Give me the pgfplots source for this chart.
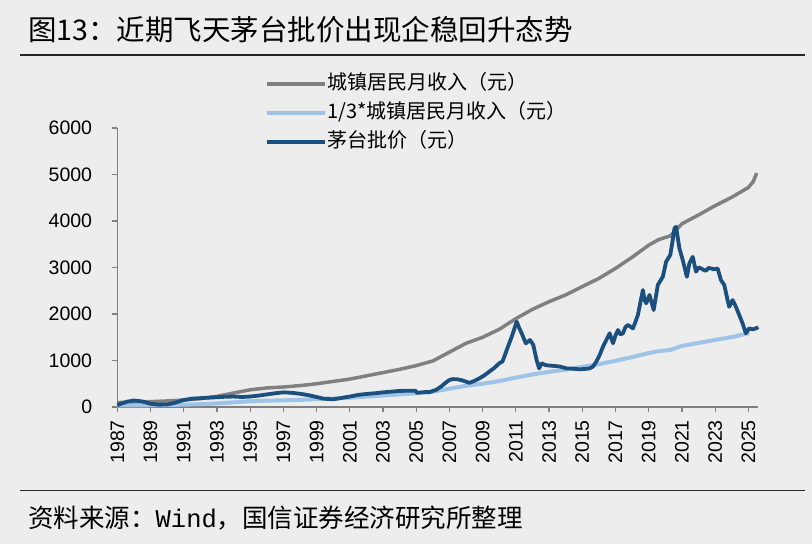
\documentclass[border=0pt]{standalone}
\usepackage{pgfplots}
\pgfplotsset{compat=1.18}
\usepackage{fontspec}
\setmainfont{Liberation Sans}
\newfontfamily\cjk{Noto Sans CJK SC}
\newfontfamily\mono{Liberation Mono}
\definecolor{bg}{HTML}{EDEDED}
\definecolor{incgray}{HTML}{808080}
\definecolor{lblue}{HTML}{9DC3E6}
\definecolor{dblue}{HTML}{1B4F7E}
\definecolor{axgray}{HTML}{7F7F7F}

\pgfplotstableread{
x y
1987.0 95
1988.0 105
1989.0 115
1990.0 130
1991.0 150
1992.0 180
1993.0 230
1994.0 300
1995.0 370
1996.0 410
1997.0 430
1998.0 460
1999.0 500
2000.0 550
2001.0 600
2002.0 670
2003.0 740
2004.0 810
2005.0 890
2006.0 990
2007.0 1180
2008.0 1370
2009.0 1500
2010.0 1670
2011.0 1900
2012.0 2100
2013.0 2265
2014.0 2410
2015.0 2590
2016.0 2765
2017.0 2980
2018.0 3220
2019.0 3480
2019.6 3600
2020.3 3680
2021.0 3940
2022.0 4130
2023.0 4330
2024.0 4510
2025.0 4720
2025.3 4850
2025.5 5030
}\income

\pgfplotstableread{
x y
1987.0 32
1988.0 35
1989.0 38
1990.0 43
1991.0 50
1992.0 60
1993.0 77
1994.0 100
1995.0 123
1996.0 137
1997.0 143
1998.0 153
1999.0 167
2000.0 183
2001.0 200
2002.0 223
2003.0 247
2004.0 270
2005.0 297
2006.0 330
2007.0 393
2008.0 457
2009.0 500
2010.0 557
2011.0 633
2012.0 700
2013.0 755
2014.0 803
2015.0 863
2016.0 922
2017.0 993
2018.0 1073
2019.0 1160
2019.6 1200
2020.3 1227
2021.0 1313
2022.0 1377
2023.0 1443
2024.0 1503
2025.05 1590
}\third

\pgfplotstableread{
x y
1987.0 40
1987.3 80
1987.6 115
1988.0 140
1988.5 120
1989.0 70
1989.5 50
1990.0 55
1990.4 85
1991.0 150
1991.5 180
1992.0 190
1992.5 200
1993.0 210
1993.5 220
1994.0 225
1994.5 215
1995.0 225
1995.5 245
1996.0 270
1996.5 295
1997.0 315
1997.5 305
1998.0 285
1998.5 255
1999.0 215
1999.4 180
2000.0 165
2000.5 195
2001.0 225
2001.5 260
2002.0 280
2002.5 295
2003.0 315
2003.5 330
2004.0 345
2004.5 350
2004.95 350
2005.05 305
2005.5 320
2005.8 320
2006.2 370
2006.5 440
2006.8 530
2007.0 580
2007.2 600
2007.5 595
2007.8 570
2008.2 520
2008.5 560
2008.8 615
2009.1 680
2009.4 760
2009.7 840
2010.0 940
2010.2 980
2010.45 1225
2010.75 1510
2011.05 1835
2011.2 1700
2011.35 1585
2011.6 1370
2011.85 1440
2012.05 1335
2012.25 1010
2012.4 830
2012.55 940
2012.8 900
2013.05 890
2013.4 880
2013.65 870
2014.05 830
2014.4 825
2014.85 810
2015.2 820
2015.45 830
2015.65 870
2015.85 980
2016.05 1120
2016.25 1300
2016.45 1440
2016.65 1585
2016.85 1370
2017.0 1540
2017.15 1655
2017.3 1560
2017.45 1585
2017.6 1720
2017.75 1765
2018.05 1690
2018.2 1830
2018.35 1980
2018.5 2250
2018.65 2515
2018.75 2300
2018.85 2230
2019.05 2410
2019.3 2085
2019.55 2625
2019.85 2800
2020.05 3125
2020.3 3270
2020.45 3600
2020.55 3840
2020.65 3875
2020.85 3410
2021.05 3160
2021.3 2800
2021.45 3090
2021.65 3230
2021.85 2910
2022.0 3000
2022.15 2980
2022.3 2950
2022.45 2930
2022.6 2990
2022.75 2980
2022.95 2960
2023.15 2980
2023.35 2730
2023.55 2625
2023.75 2300
2023.85 2155
2024.05 2300
2024.25 2155
2024.45 1980
2024.65 1800
2024.85 1585
2025.05 1690
2025.25 1670
2025.45 1690
2025.6 1715
}\moutai

\begin{document}
\begin{tikzpicture}
\useasboundingbox (0,0) rectangle (812pt,544pt);
\fill[bg] (0,0) rectangle (812pt,544pt);
\node[anchor=west, inner sep=0pt, font=\cjk\fontsize{28.5pt}{32pt}\selectfont] at (28pt,514pt) {图13：近期飞天茅台批价出现企稳回升态势};
\draw[line width=1.5pt, black!85] (20pt,489pt) -- (805pt,489pt);
\draw[line width=1.5pt, black!85] (20pt,53.3pt) -- (805pt,53.3pt);
\node[anchor=west, inner sep=0pt, font=\cjk\fontsize{25.5pt}{28pt}\selectfont] at (28pt,26pt) {资料来源：{\mono Wind}，国信证券经济研究所整理};
\begin{axis}[
  at={(117.3pt,137pt)}, anchor=south west,
  scale only axis, width=641pt, height=279pt,
  xmin=1987, xmax=2025.6, ymin=0, ymax=6000,
  axis x line=bottom, axis y line=left,
  axis line style={-, draw=axgray, line width=1.5pt},
  tick style={draw=axgray, line width=1.2pt},
  tick align=outside, major tick length=5pt,
  xtick={1987,1989,...,2025},
  ytick={0,1000,...,6000},
  minor tick num=0,
  /pgf/number format/1000 sep={},
  /pgf/number format/assume math mode=true,
  xticklabel style={rotate=90, anchor=east, inner sep=0pt, font=\fontsize{19.5pt}{22pt}\selectfont},
  yticklabel style={anchor=east, inner sep=0pt, font=\fontsize{19.5pt}{22pt}\selectfont},
  xticklabel shift=8pt,
  yticklabel shift=20pt,
  clip=false,
  legend style={at={(0.2304,1.1935)}, anchor=north west, draw=none, fill=none,
    inner sep=0pt, row sep=9pt,
    nodes={inner sep=0pt, text height=15pt, text depth=5pt, anchor=west},
    font=\cjk\fontsize{20pt}{24pt}\selectfont},
  legend cell align=left,
  legend image code/.code={\draw[#1] (0pt,0pt) -- (58pt,0pt);},
]
\addplot[incgray, line width=3.5pt, line join=round] table {\income};
\addlegendentry{城镇居民月收入（元）}
\addplot[lblue, line width=4pt, line join=round] table {\third};
\addlegendentry{1/3*城镇居民月收入（元）}
\addplot[dblue, line width=3.8pt, line join=round] table {\moutai};
\addlegendentry{茅台批价（元）}
\end{axis}
\end{tikzpicture}
\end{document}
